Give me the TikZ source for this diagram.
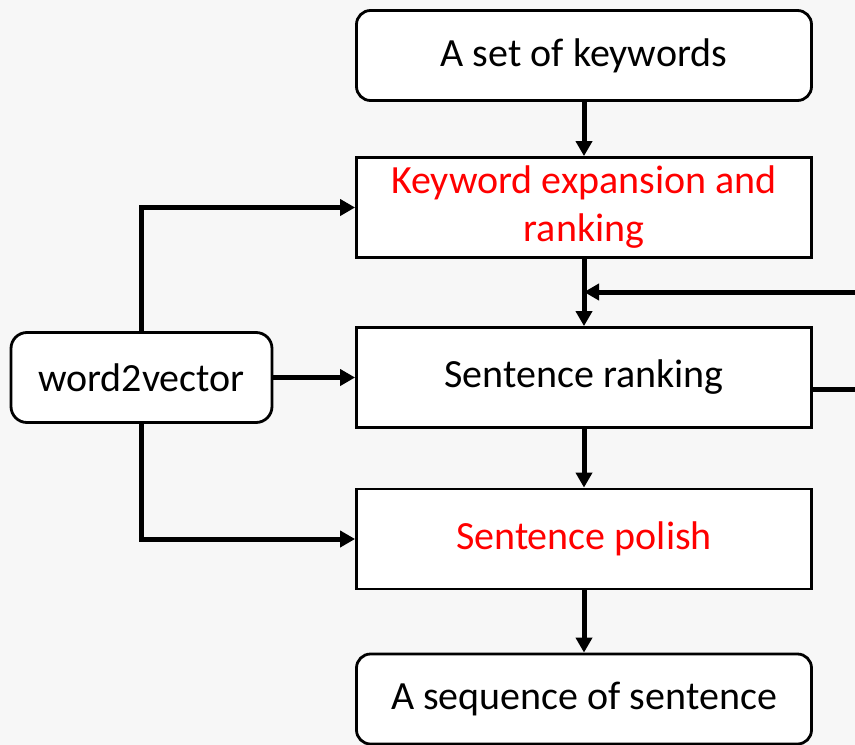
\documentclass[tikz,border=0pt]{standalone}
\usepackage{fontspec}
\setmainfont{Carlito}
\usetikzlibrary{arrows.meta}
\definecolor{bggray}{HTML}{F7F7F7}
\tikzset{
  stepbox/.style={draw,line width=2.8pt,fill=white,minimum width=455pt,
    minimum height=100pt,align=center,inner sep=2pt},
  endbox/.style={stepbox,rounded corners=14pt,minimum height=90pt},
  hot/.style={text=red},
  flow/.style={line width=5pt,-{Triangle[width=16pt,length=15pt]}},
  feed/.style={line width=5pt}
}
\begin{document}
\begin{tikzpicture}[x=1pt,y=-1pt,font=\fontsize{40}{48}\selectfont]
  \clip (0,0) rectangle (855,745);
  \fill[bggray] (0,0) rectangle (855,745);
  % main column
  \node[endbox] (keys) at (584,55.5) {A set of keywords};
  \node[stepbox,hot] (expand) at (584,207.5) {Keyword expansion and\\ranking};
  \node[stepbox] (rank) at (584,377.5) {Sentence ranking};
  \node[stepbox,hot] (polish) at (584,539) {Sentence polish};
  \node[endbox] (seq) at (584,699) {A sequence of sentence};
  \node[endbox,minimum width=261pt,rounded corners=16pt] (w2v) at (141.5,377.5) {word2vector};
  \coordinate (fbout) at (880,292);
  \coordinate (fbin) at (expand.south |- fbout);
  % arrows
  \draw[flow] (keys) -- (expand);
  \draw[flow] (expand) -- (rank);
  \draw[flow] (rank) -- (polish);
  \draw[flow] (polish) -- (seq);
  \draw[flow] (w2v.north) |- (expand.west);
  \draw[flow] (w2v) -- (rank);
  \draw[flow] (w2v.south) |- (polish.west);
  \draw[feed] ([yshift=-11.5pt]rank.east) -| (fbout);
  \draw[flow] (fbout) -- (fbin);
\end{tikzpicture}
\end{document}
